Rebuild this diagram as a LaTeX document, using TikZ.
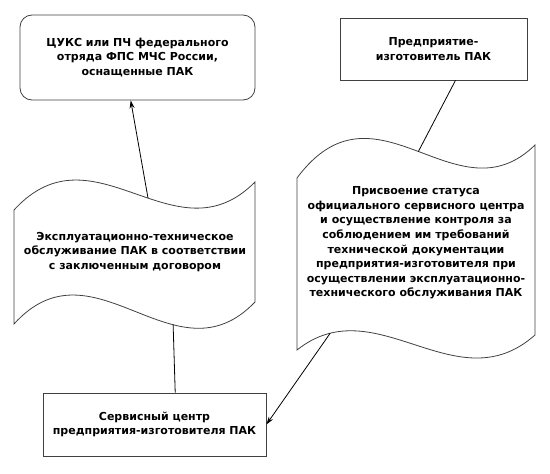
\documentclass[tikz,border=0pt]{standalone}
\usepackage{fontspec}
\setmainfont{DejaVu Sans}
\usetikzlibrary{arrows.meta}
\begin{document}
\begin{tikzpicture}
[
    x=1pt, y=-1pt,
    every node/.style={font=\bfseries\fontsize{11}{14.6}\selectfont, align=center},
    box/.style={draw=black!75, line width=0.8pt, inner sep=0pt},
    wave/.style={draw=black!75, line width=0.8pt},
    link/.style={draw=black, line width=0.8pt},
    arrow/.style={link, -{Stealth[length=8pt, width=5pt]}}
]
    \useasboundingbox (0, 0) rectangle (550, 474);

    \node [box, rounded corners=12pt, minimum width=235pt, minimum height=85pt] (ucks) at (137.5, 57.5)
        {ЦУКС или ПЧ федерального\\отряда ФПС МЧС России,\\оснащенные ПАК};
    \node [box, minimum width=187pt, minimum height=62pt] (maker) at (433.5, 49)
        {Предприятие-\\изготовитель ПАК};
    \node [box, minimum width=223pt, minimum height=63pt] (service) at (154.5, 424.5)
        {Сервисный центр\\предприятия-изготовителя ПАК};

    \draw [wave] (14, 210) .. controls (94, 122.5) and (175, 262.7) .. (255, 182) coordinate [pos=0.556] (expl-in)
        -- (255, 302) .. controls (175, 385.4) and (94, 235.7) .. (14, 324) coordinate [pos=0.34] (expl-out) -- cycle;
    \node (expl) at (135, 252)
        {Эксплуатационно-техническое\\обслуживание ПАК в соответствии\\с заключенным договором};

    \draw [wave] (297, 178) .. controls (376, 71.6) and (456, 222.3) .. (535, 145) coordinate [pos=0.51] (status-in)
        -- (535, 335) .. controls (456, 405) and (376, 287) .. (297, 350) coordinate [pos=0.86] (status-out) -- cycle;
    \node (status) at (416, 243)
        {Присвоение статуса\\официального сервисного центра\\и осуществление контроля за\\соблюдением им требований\\технической документации\\предприятия-изготовителя при\\осуществлении эксплуатационно-\\технического обслуживания ПАК};

    \draw [arrow] (expl-in) -- (ucks.-99);
    \draw [link] (expl-out) -- (service.57);
    \draw [link] (maker.-55) -- (status-in);
    \draw [arrow] (status-out) -- (service.east);
\end{tikzpicture}
\end{document}
